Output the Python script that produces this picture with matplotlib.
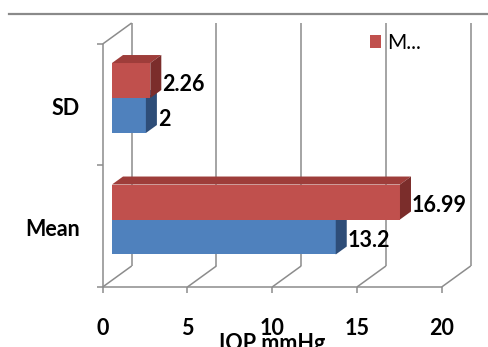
import matplotlib.pyplot as plt
from matplotlib.patches import Polygon, Patch

# data
categories = ["Mean", "SD"]
blue_values = [13.2, 2]
red_values = [16.99, 2.26]
blue_labels = ["13.2", "2"]
red_labels = ["16.99", "2.26"]
x_ticks = [0, 5, 10, 15, 20]
legend_text = "M..."
x_title = "IOP mmHg"

RED = "#C0504D"
RED_TOP = "#9E3D3A"
RED_SIDE = "#7B2D2B"
BLUE = "#4F81BD"
BLUE_SIDE = "#2E4D78"
GRID = "#8C8C8C"

# fake 3d depth (in data units)
DX = 1.71
DY = 0.173
F0 = 0.32
F1 = 0.70
BAR_H = 0.288

plt.rcParams["font.family"] = ["Lato", "DejaVu Sans"]


def draw_walls(ax):
    """back wall, floor and left wall lines of the 3d box"""
    kw = dict(color=GRID, lw=1.1, solid_capstyle="butt", zorder=1)
    for v in x_ticks:
        ax.plot([v, v + DX], [0, DY], **kw)
        ax.plot([v + DX, v + DX], [DY, 2 + DY], **kw)
        ax.plot([v, v], [0, -0.05], **kw)
    ax.plot([0, x_ticks[-1]], [0, 0], **kw)
    ax.plot([0, 0], [0, 2], **kw)
    ax.plot([0, DX], [2, 2 + DY], **kw)
    for i in range(len(categories) + 1):
        ax.plot([-0.35, 0], [i, i], **kw)


def draw_bar(ax, y0, value, front, top, side):
    """one 3d bar: front face, top face and side face"""
    x0 = F0 * DX
    x1 = x0 + value
    dfx = (F1 - F0) * DX
    dfy = (F1 - F0) * DY
    y1 = y0 + BAR_H
    ax.add_patch(Polygon([(x0, y0), (x1, y0), (x1, y1), (x0, y1)],
                         closed=True, fc=front, ec="none", zorder=3))
    ax.add_patch(Polygon([(x0, y1), (x1, y1), (x1 + dfx, y1 + dfy), (x0 + dfx, y1 + dfy)],
                         closed=True, fc=top, ec="none", zorder=3))
    ax.add_patch(Polygon([(x1, y0), (x1, y1), (x1 + dfx, y1 + dfy), (x1 + dfx, y0 + dfy)],
                         closed=True, fc=side, ec="none", zorder=3))
    return x1 + dfx


def main():
    fig = plt.figure(figsize=(4.88, 3.47), dpi=100)
    ax = fig.add_axes([0, 0, 1, 1])
    ax.set_xlim(-6.059, 22.73)
    ax.set_ylim(-0.494, 2.362)
    ax.axis("off")

    # grey rule along the top of the picture
    ax.axhline(2.247, xmin=0.018, xmax=1, color="#8A8A8A", lw=1.6)

    draw_walls(ax)

    fs = 15.5
    for i, cat in enumerate(categories):
        c = i + 0.5 + F0 * DY
        end_b = draw_bar(ax, c - BAR_H, blue_values[i], BLUE, BLUE, BLUE_SIDE)
        end_r = draw_bar(ax, c, red_values[i], RED, RED_TOP, RED_SIDE)
        ax.text(end_b + 0.05, c - BAR_H / 2 - 0.03, blue_labels[i], ha="left",
                va="center", fontsize=fs, fontweight="bold", zorder=4)
        ax.text(end_r + 0.05, c + BAR_H / 2 - 0.03, red_labels[i], ha="left",
                va="center", fontsize=fs, fontweight="bold", zorder=4)
        ax.text(-1.34, i + 0.47, cat, ha="right", va="center",
                fontsize=fs, fontweight="bold")

    for v in x_ticks:
        ax.text(v, -0.34, str(v), ha="center", va="center",
                fontsize=fs, fontweight="bold")
    ax.text(10, -0.465, x_title, ha="center", va="center",
            fontsize=fs, fontweight="bold")

    handle = Patch(facecolor=RED, edgecolor="none")
    ax.legend([handle], [legend_text], loc="upper left",
              bbox_to_anchor=(0.758, 0.905), frameon=False, fontsize=15,
              handlelength=0.55, handleheight=0.55, handletextpad=0.3,
              borderpad=0, borderaxespad=0)

    fig.savefig("out.png", dpi=100)


main()
